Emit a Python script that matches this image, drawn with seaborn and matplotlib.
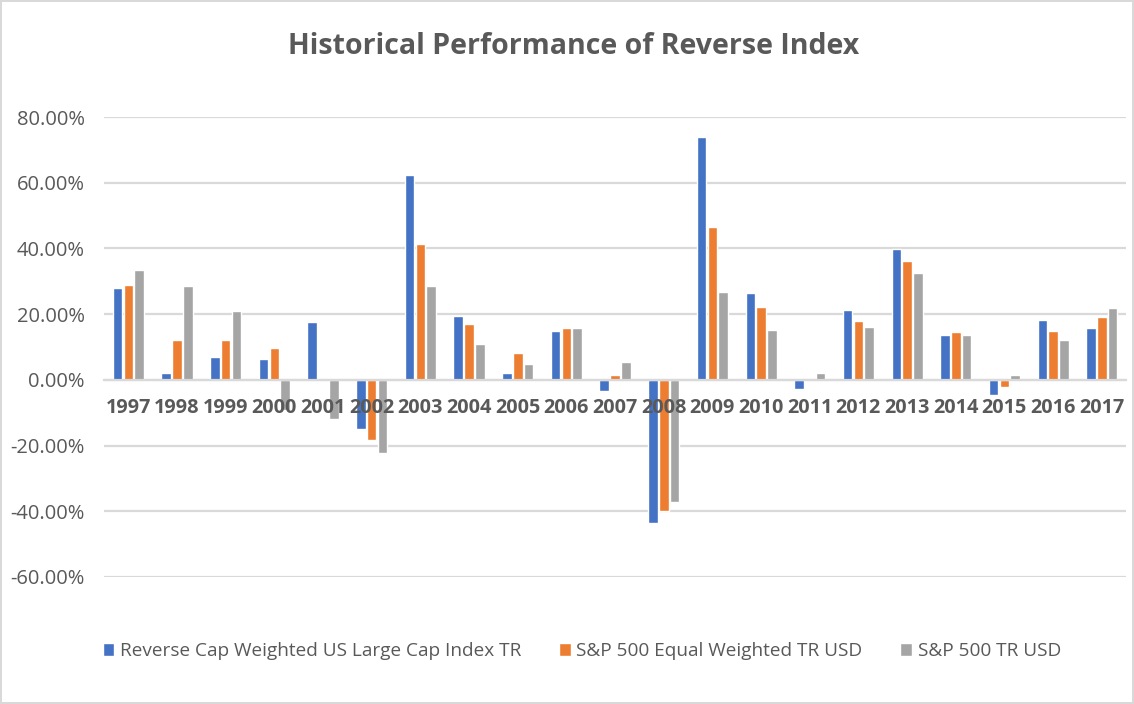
import pandas as pd
import numpy as np
import matplotlib.pyplot as plt
import seaborn as sns
from matplotlib.ticker import FuncFormatter

# --- datos (rendimiento anual en %) ---
anios = ['1997', '1998', '1999', '2000', '2001', '2002', '2003', '2004', '2005', '2006', '2007',
         '2008', '2009', '2010', '2011', '2012', '2013', '2014', '2015', '2016', '2017']

reverse_cap = [28.0, 2.2, 7.0, 6.5, 17.6, -14.9, 62.3, 19.3, 2.1, 15.0, -3.3,
               -43.6, 73.8, 26.3, -2.7, 21.3, 39.8, 13.8, -4.6, 18.1, 15.7]
sp_equal = [29.0, 12.0, 12.0, 9.6, 0.0, -18.3, 41.2, 17.0, 8.1, 15.8, 1.5,
            -40.0, 46.4, 22.1, 0.0, 17.8, 36.2, 14.5, -2.1, 14.8, 19.1]
sp_total = [33.4, 28.6, 21.0, -9.1, -11.9, -22.2, 28.7, 10.9, 4.9, 15.8, 5.5,
            -37.2, 26.6, 15.2, 2.1, 16.1, 32.5, 13.7, 1.5, 12.1, 22.0]

series = ['Reverse Cap Weighted US Large Cap Index TR',
          'S&P 500 Equal Weighted TR USD',
          'S&P 500 TR USD']
colores = ['#4472C4', '#ED7D31', '#A5A5A5']

df = pd.DataFrame({
    'anio': anios * 3,
    'serie': [series[0]] * len(anios) + [series[1]] * len(anios) + [series[2]] * len(anios),
    'valor': reverse_cap + sp_equal + sp_total,
})

sns.set_style('white')
plt.rcParams['font.family'] = ['Open Sans', 'DejaVu Sans']

texto = '#595959'
grid = '#D9D9D9'

fig = plt.figure(figsize=(11.34, 7.04), dpi=100)
ax = fig.add_axes([0.0917, 0.1804, 0.9013, 0.6534])

sns.barplot(data=df, x='anio', y='valor', hue='serie', hue_order=series,
            palette=colores, saturation=1, width=0.66, gap=0.1, ax=ax, zorder=3)

ax.set_ylim(-60, 80)
ax.set_yticks(np.arange(-60, 81, 20))
ax.yaxis.set_major_formatter(FuncFormatter(lambda v, p: f'{v:.2f}%'))
ax.grid(axis='y', color=grid, linewidth=1.6, zorder=0)
ax.set_axisbelow(True)
# etiquetas de años por encima de las barras (como en Excel)
ax.xaxis.set_zorder(5)

for s in ['top', 'right', 'left']:
    ax.spines[s].set_visible(False)
ax.spines['bottom'].set_position(('data', 0))
ax.spines['bottom'].set_color(grid)
ax.spines['bottom'].set_linewidth(1.6)
ax.spines['bottom'].set_zorder(4)

ax.tick_params(axis='x', length=0, pad=13, labelsize=14.3, labelcolor=texto)
ax.tick_params(axis='y', length=0, pad=14, labelsize=14.5, labelcolor=texto)
for lbl in ax.get_xticklabels():
    lbl.set_fontweight('bold')
ax.set_xlabel('')
ax.set_ylabel('')

handles, labels = ax.get_legend_handles_labels()
ax.get_legend().remove()
fig.legend(handles, labels, loc='center', bbox_to_anchor=(0.513, 0.075), ncol=3,
           frameon=False, fontsize=13.7, labelcolor=texto, handlelength=0.6,
           handleheight=0.6, handletextpad=0.3, columnspacing=2.0)

fig.suptitle('Historical Performance of Reverse Index', x=0.506, y=0.955,
             fontsize=20.5, fontweight='bold', color=texto)

fig.patch.set_edgecolor(grid)
fig.patch.set_linewidth(1.5)

fig.savefig('out.png', dpi=100, edgecolor=fig.get_edgecolor())
